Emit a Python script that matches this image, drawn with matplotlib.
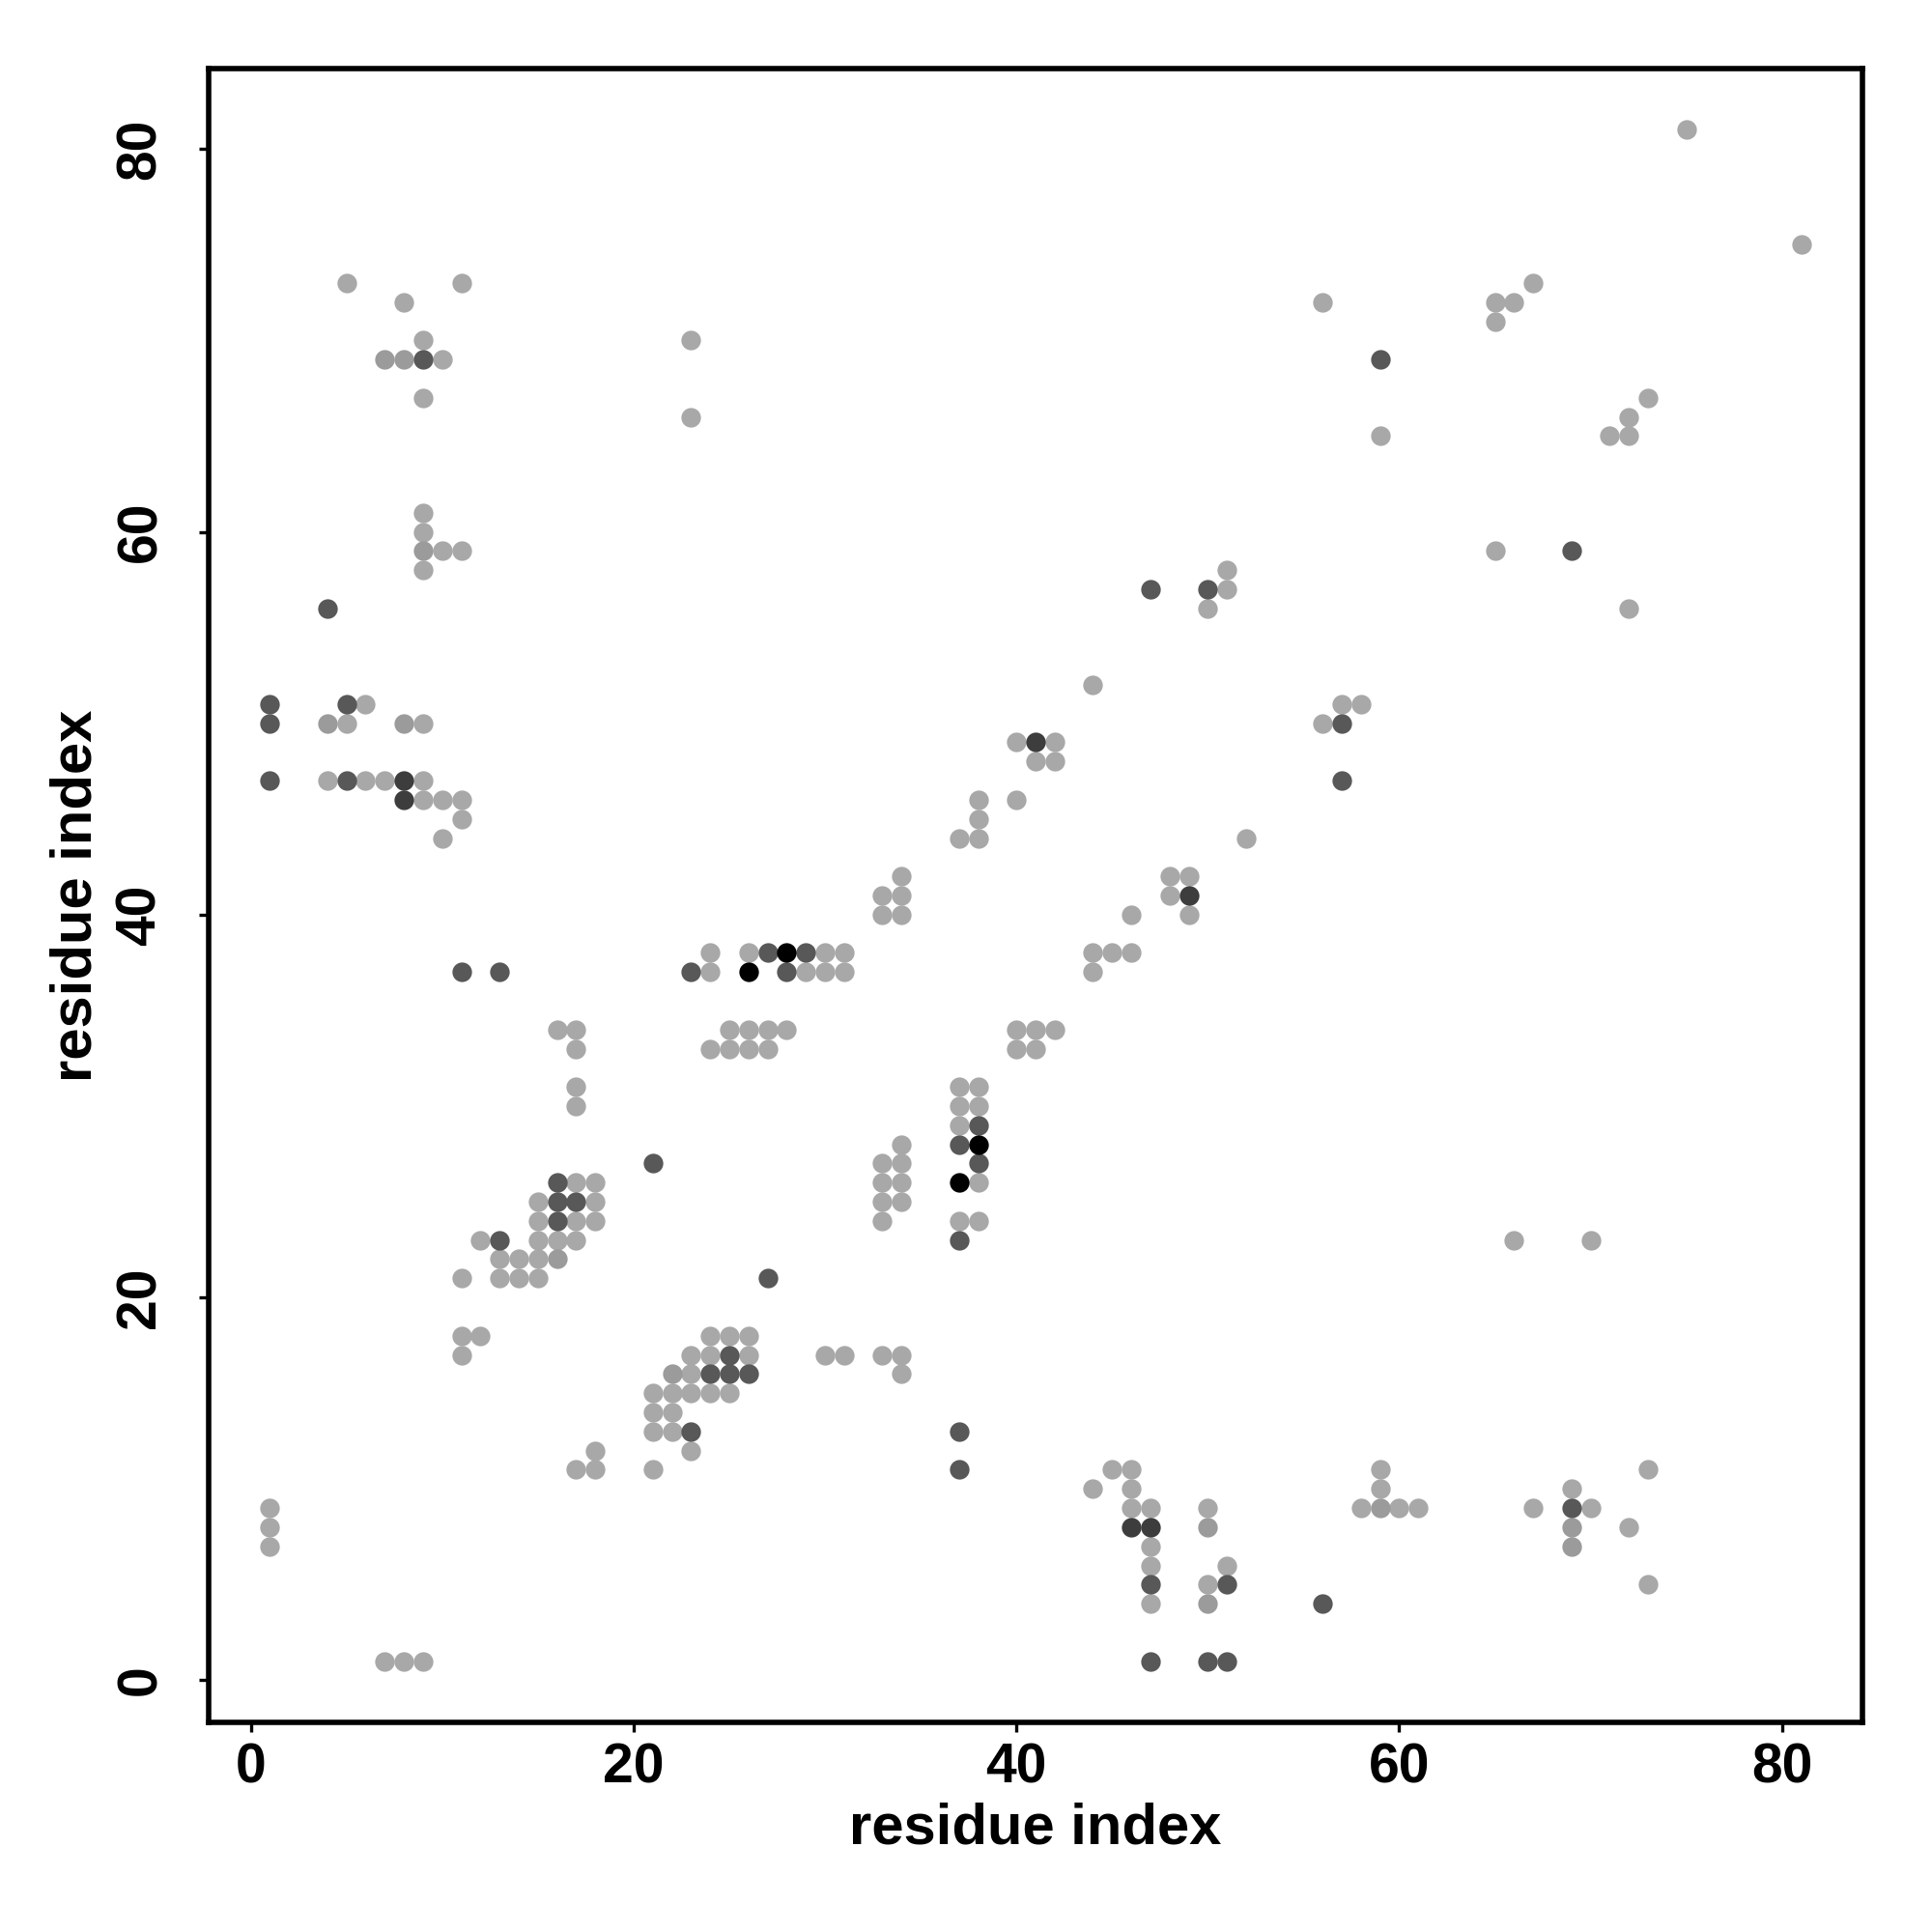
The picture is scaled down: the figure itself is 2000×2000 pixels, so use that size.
import numpy as np
import matplotlib.pyplot as plt

plt.rcParams['font.family'] = ['Liberation Sans', 'DejaVu Sans']

# residue contacts, upper triangle only (i < j); the map is symmetric
res_i = [1, 1, 1, 1, 1, 1,
         4, 4, 4,
         5, 5, 5, 5,
         6, 6,
         7, 7,
         8, 8, 8, 8, 8,
         9, 9, 9, 9, 9, 9, 9, 9, 9, 9,
         10, 10, 10, 10,
         11, 11, 11, 11, 11, 11, 11, 11,
         12, 12,
         13, 13, 13, 13,
         14, 14,
         15, 15, 15, 15, 15,
         16, 16, 16, 16, 16, 16,
         17, 17, 17, 17, 17, 17, 17, 17,
         18, 18, 18,
         21,
         23, 23, 23,
         24, 24, 24,
         25, 25,
         26, 26, 26, 26,
         27, 27, 27,
         28, 28, 28,
         29, 29,
         30, 30,
         31, 31,
         33, 33,
         34, 34, 34,
         37,
         38, 38, 38,
         40, 40,
         41, 41,
         42, 42,
         44,
         47,
         50, 50,
         51, 51,
         56,
         59, 59,
         65, 65,
         66,
         67,
         75]
res_j = [7, 8, 9, 47, 50, 51,
         47, 50, 56,
         47, 50, 51, 73,
         47, 51,
         47, 69,
         46, 47, 50, 69, 72,
         46, 47, 50, 58, 59, 60, 61, 67, 69, 70,
         44, 46, 59, 69,
         17, 18, 21, 37, 45, 46, 59, 73,
         18, 23,
         21, 22, 23, 37,
         21, 22,
         21, 22, 23, 24, 25,
         22, 23, 24, 25, 26, 34,
         23, 24, 25, 26, 30, 31, 33, 34,
         24, 25, 26,
         27,
         37, 66, 70,
         33, 37, 38,
         33, 34,
         33, 34, 37, 38,
         33, 34, 38,
         34, 37, 38,
         37, 38,
         37, 38,
         37, 38,
         40, 41,
         40, 41, 42,
         44,
         44, 45, 46,
         46, 49,
         48, 49,
         48, 49,
         52,
         57,
         56, 57,
         57, 58,
         72,
         65, 69,
         71, 72,
         72,
         73,
         81]
# contact strength class: 1 weakest ... 5 strongest
level = [1, 1, 1, 3, 3, 3,
         1, 2, 3,
         3, 1, 3, 1,
         1, 1,
         1, 2,
         4, 4, 2, 2, 1,
         1, 1, 1, 1, 2, 1, 1, 1, 3, 1,
         1, 1, 1, 1,
         1, 1, 1, 3, 1, 1, 1, 1,
         1, 1,
         1, 1, 3, 3,
         1, 1,
         1, 1, 1, 1, 1,
         2, 1, 3, 3, 3, 1,
         1, 1, 3, 1, 1, 1, 1, 1,
         1, 1, 1,
         3,
         3, 1, 1,
         1, 1, 1,
         1, 1,
         1, 1, 5, 1,
         1, 1, 3,
         1, 3, 5,
         1, 3,
         1, 1,
         1, 1,
         1, 1,
         1, 1, 1,
         1,
         1, 1, 1,
         1, 1,
         1, 4,
         1, 1,
         1,
         3,
         1, 3,
         1, 1,
         1,
         1, 3,
         1, 1,
         1,
         1,
         1]

shade = {1: '#a8a8a8', 2: '#9b9b9b', 3: '#585858', 4: '#3d3d3d', 5: '#000000'}

x = np.array(res_i + res_j)
y = np.array(res_j + res_i)
lv = np.array(level + level)

fig = plt.figure(figsize=(10, 10), dpi=200)
ax = fig.add_axes([0.108, 0.1085, 0.856, 0.856])

for k in sorted(shade):
    m = lv == k
    ax.plot(x[m], y[m], 'o', color=shade[k], markersize=7.3, markeredgewidth=0)

ax.set_xlim(-2.2, 84.2)
ax.set_ylim(-2.2, 84.2)
ax.set_xticks([0, 20, 40, 60, 80])
ax.set_yticks([0, 20, 40, 60, 80])

for s in ax.spines.values():
    s.set_linewidth(2.0)

ax.tick_params(direction='out', length=3.5, width=1.2, labelsize=20.5)
ax.tick_params(axis='x', pad=4)
ax.tick_params(axis='y', pad=12)
for t in ax.get_xticklabels():
    t.set_fontweight('bold')
for t in ax.get_yticklabels():
    t.set_fontweight('bold')
    t.set_rotation(90)
    t.set_va('center')

ax.set_xlabel('residue index', fontsize=21.5, fontweight='bold', va='center')
ax.set_ylabel('residue index', fontsize=21.5, fontweight='bold', va='center')
ax.xaxis.set_label_coords(0.5, -0.064)
ax.yaxis.set_label_coords(-0.080, 0.5)

fig.savefig('out.png', dpi=200, facecolor='white')
